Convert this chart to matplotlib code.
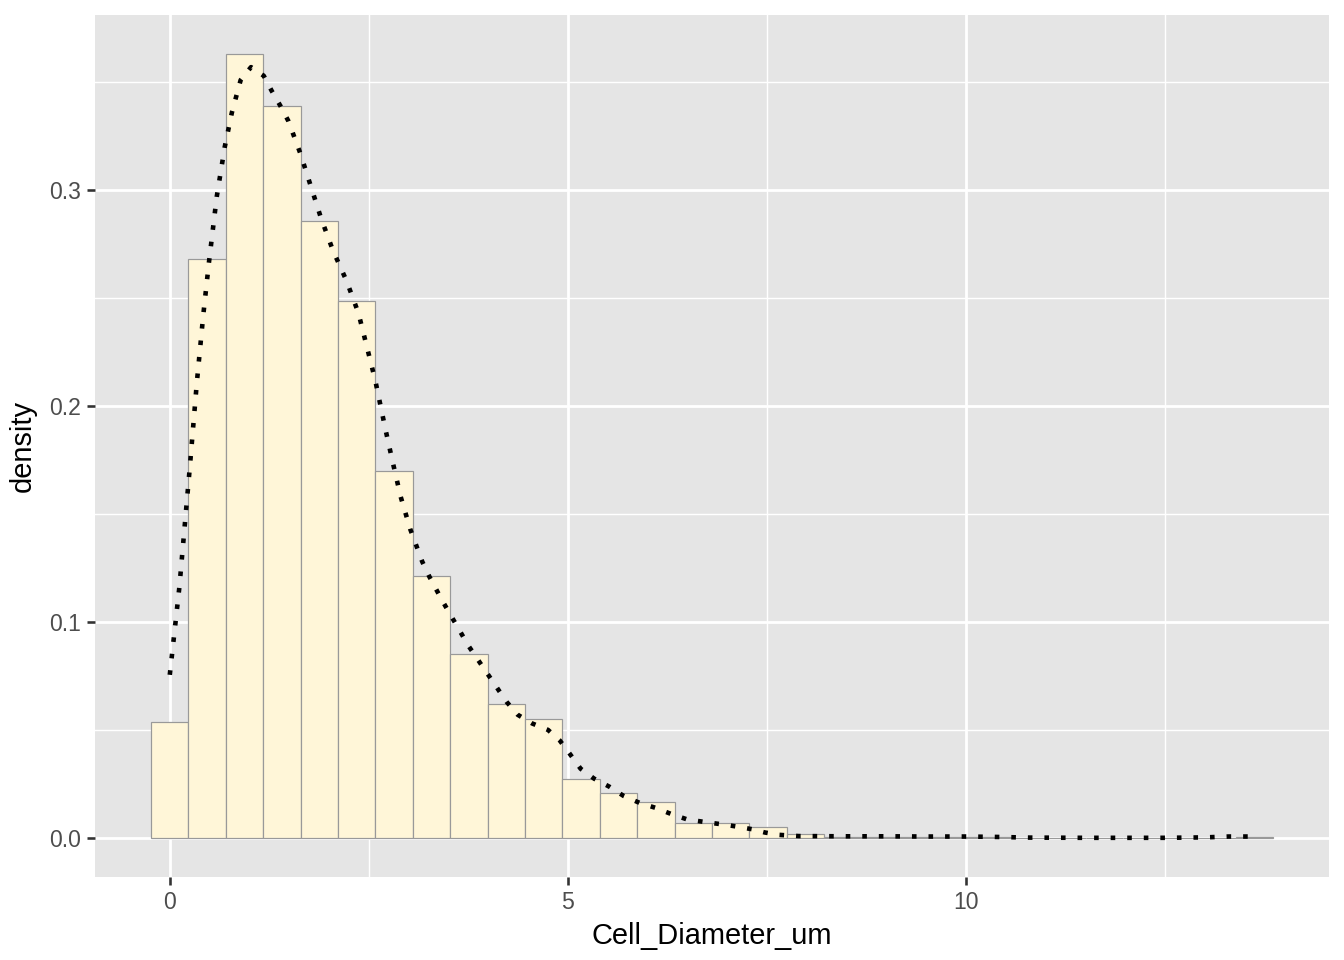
import matplotlib.pyplot as plt
import numpy as np

plt.rcParams['font.family'] = ['Liberation Sans', 'DejaVu Sans']

# histogram (30 bins, centred on 0 ... 13.62)
bin_centers = np.linspace(0.0, 13.62, 30)
bar_density = [0.0537, 0.268, 0.363, 0.339, 0.2856, 0.2486, 0.170, 0.1213,
               0.0852, 0.062, 0.0551, 0.0273, 0.0208, 0.0167, 0.0067, 0.0067,
               0.0052, 0.0016, 0.0005, 0.0005, 0.0005, 0.0004, 0.0003, 0.0,
               0.0, 0.0, 0.0, 0.0, 0.0, 0.0004]

# kernel density curve
dens_x = [0.0, 0.12, 0.25, 0.34, 0.42, 0.49, 0.59, 0.69, 0.78, 0.89, 1.02,
          1.18, 1.28, 1.39, 1.49, 1.64, 1.77, 1.90, 2.05, 2.22, 2.37, 2.58,
          2.71, 2.80, 2.90, 3.02, 3.17, 3.26, 3.42, 3.53, 3.75, 3.99, 4.23,
          4.37, 4.55, 4.75, 4.90, 5.03, 5.16, 5.33, 5.52, 5.70, 5.90, 6.10,
          6.30, 6.50, 6.80, 6.97, 7.14, 7.31, 7.47, 7.64, 7.90, 8.5, 9.0,
          9.5, 10.0, 10.4, 10.8, 11.5, 12.0, 12.5, 13.0, 13.3, 13.62]
dens_y = [0.0755, 0.116, 0.171, 0.211, 0.242, 0.266, 0.297, 0.320, 0.336,
          0.351, 0.357, 0.353, 0.346, 0.339, 0.332, 0.317, 0.302, 0.287,
          0.272, 0.258, 0.243, 0.212, 0.189, 0.174, 0.158, 0.143, 0.128,
          0.121, 0.110, 0.103, 0.089, 0.076, 0.063, 0.057, 0.053, 0.050,
          0.045, 0.0386, 0.032, 0.0274, 0.0237, 0.0194, 0.0162, 0.0139,
          0.011, 0.0085, 0.0069, 0.0061, 0.0051, 0.004, 0.0025, 0.0014,
          0.0008, 0.0007, 0.0007, 0.0006, 0.0006, 0.0004, 0.0001, 0.0, 0.0,
          0.0, 0.0002, 0.0006, 0.0006]

width = bin_centers[1] - bin_centers[0]

fig = plt.figure(figsize=(1344 / 144, 960 / 144), dpi=144)
ax = fig.add_axes([95 / 1344, 83 / 960, 1234 / 1344, 862 / 960])
ax.set_facecolor('#E5E5E5')

ax.bar(bin_centers, bar_density, width=width, color='#FFF6D8',
       edgecolor='#999999', linewidth=0.6, zorder=2)
ax.plot(dens_x, dens_y, color='black', linewidth=2.3,
        linestyle=(0, (1, 2.6)), zorder=3)

# ggplot-style 5% expansion
x0, x1 = bin_centers[0] - width / 2, bin_centers[-1] + width / 2
ymax = max(bar_density)
ax.set_xlim(x0 - 0.05 * (x1 - x0), x1 + 0.05 * (x1 - x0))
ax.set_ylim(-0.05 * ymax, ymax * 1.05)

ax.set_xticks([0, 5, 10])
ax.set_xticklabels(['0', '5', '10'])
ax.set_yticks([0.0, 0.1, 0.2, 0.3])
ax.set_yticklabels(['0.0', '0.1', '0.2', '0.3'])
ax.set_xticks([2.5, 7.5, 12.5], minor=True)
ax.set_yticks([0.05, 0.15, 0.25, 0.35], minor=True)

ax.grid(which='major', color='white', linewidth=1.4, zorder=0)
ax.grid(which='minor', color='white', linewidth=0.7, zorder=0)
ax.set_axisbelow(True)
for s in ax.spines.values():
    s.set_visible(False)

ax.tick_params(which='major', length=4, width=1.3, color='#333333',
               labelsize=11.5, labelcolor='#4D4D4D', pad=3)
ax.tick_params(which='minor', length=0)

ax.set_xlabel('Cell_Diameter_um', fontsize=14.5, color='black', labelpad=4)
ax.set_ylabel('density', fontsize=14.5, color='black', labelpad=6)

fig.savefig('out.png', dpi=144, facecolor='white')
